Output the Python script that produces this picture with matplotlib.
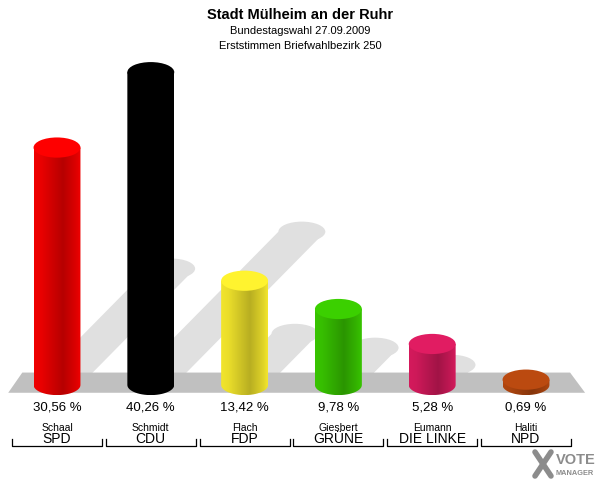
import numpy as np
import matplotlib
matplotlib.use("Agg")
import matplotlib.pyplot as plt
from matplotlib.patches import Ellipse, Polygon, PathPatch
from matplotlib.path import Path
from matplotlib.colors import to_rgb

plt.rcParams["font.family"] = ["Liberation Sans", "DejaVu Sans"]

title = "Stadt Mülheim an der Ruhr"
subtitle1 = "Bundestagswahl 27.09.2009"
subtitle2 = "Erststimmen Briefwahlbezirk 250"

candidates = ["Schaal", "Schmidt", "Flach", "Giesbert", "Eumann", "Haliti"]
parties = ["SPD", "CDU", "FDP", "GRÜNE", "DIE LINKE", "NPD"]
values = [30.56, 40.26, 13.42, 9.78, 5.28, 0.69]
colors = ["#f00000", "#000000", "#f2e52c", "#38c400", "#d41a5c", "#b0460f"]

fig = plt.figure(figsize=(6, 4.8), dpi=100)
ax = fig.add_axes([0, 0, 1, 1])
# pixel x = 57 + 93.8*i ; pixel y = 385 - 7.77*v
ax.set_xlim(-57 / 93.8, 543 / 93.8)
ax.set_ylim(-95 / 7.77, 385 / 7.77)
ax.axis("off")

w = 0.5          # bar width in index units
eh = 2.6         # ellipse height in percent units

# shadows
for i, v in enumerate(values):
    dx = 0.040 * v
    dy = 0.49 * v
    poly = Polygon([(i - w / 2, 0), (i + w / 2, 0), (i + w / 2 + dx, dy),
                    (i - w / 2 + dx, dy)], closed=True, fc="#e0e0e0", ec="none", zorder=1)
    ax.add_patch(poly)
    ax.add_patch(Ellipse((i + dx, dy), w, eh, fc="#e0e0e0", ec="none", zorder=1))

# floor
floor = Polygon([(-0.52, -1.0), (5.63, -1.0), (5.47, 1.6), (-0.37, 1.6)],
                closed=True, fc="#c0c0c0", ec="none", zorder=2)
ax.add_patch(floor)


def shade(c, f):
    r = np.array(to_rgb(c))
    return np.clip(r * f, 0, 1)


for i, (v, c) in enumerate(zip(values, colors)):
    x0, x1 = i - w / 2, i + w / 2
    t = np.linspace(0, 1, 64)
    fac = np.interp(t, [0, 0.15, 0.62, 0.9, 1.0], [1.0, 0.97, 0.76, 0.92, 1.0])
    base = np.array(to_rgb(c))
    img = np.clip(base[None, :] * fac[:, None], 0, 1)[None, :, :]
    body = Path([(x0, v), (x0, 0)] +
                [(i + w / 2 * np.cos(a), eh / 2 * np.sin(a)) for a in np.linspace(np.pi, 2 * np.pi, 30)] +
                [(x1, v), (x0, v)])
    im = ax.imshow(img, extent=(x0, x1, -eh / 2, v), aspect="auto", zorder=3,
                   interpolation="bilinear")
    clip = PathPatch(body, transform=ax.transData, fc="none", ec="none")
    ax.add_patch(clip)
    im.set_clip_path(clip)
    ax.add_patch(Ellipse((i, v), w, eh, fc=shade(c, 1.06), ec="none", zorder=4))

    ax.text(i, -2.85, f"{v:.2f} %".replace(".", ","), ha="center", va="center",
            fontsize=9.5, zorder=5)
    ax.text(i, -5.5, candidates[i], ha="center", va="center", fontsize=7.5, zorder=5)
    ax.text(i, -6.95, parties[i], ha="center", va="center", fontsize=10, zorder=5)
    ax.plot([i - 0.48, i - 0.48, i + 0.48, i + 0.48], [-6.95, -7.85, -7.85, -6.95],
            color="black", lw=0.9, zorder=5)

fig.text(0.5, 1 - 15 / 480, title, ha="center", va="center", fontsize=10.5, fontweight="bold")
fig.text(0.5, 1 - 31 / 480, subtitle1, ha="center", va="center", fontsize=8)
fig.text(0.5, 1 - 46 / 480, subtitle2, ha="center", va="center", fontsize=8)

# logo
lg = fig.add_axes([0, 0, 1, 1], facecolor="none")
lg.set_xlim(0, 600)
lg.set_ylim(480, 0)
lg.axis("off")
lg.plot([535, 551], [452, 476], color="#8c8c8c", lw=4, solid_capstyle="round")
lg.plot([551, 535], [452, 476], color="#8c8c8c", lw=4, solid_capstyle="round")
lg.text(556, 460, "VOTE", ha="left", va="center", fontsize=10.5, color="#8c8c8c",
        fontweight="bold")
lg.text(556, 473.5, "MANAGER", ha="left", va="center", fontsize=5.3, color="#8c8c8c",
        fontweight="bold")

fig.savefig("out.png", dpi=100)
